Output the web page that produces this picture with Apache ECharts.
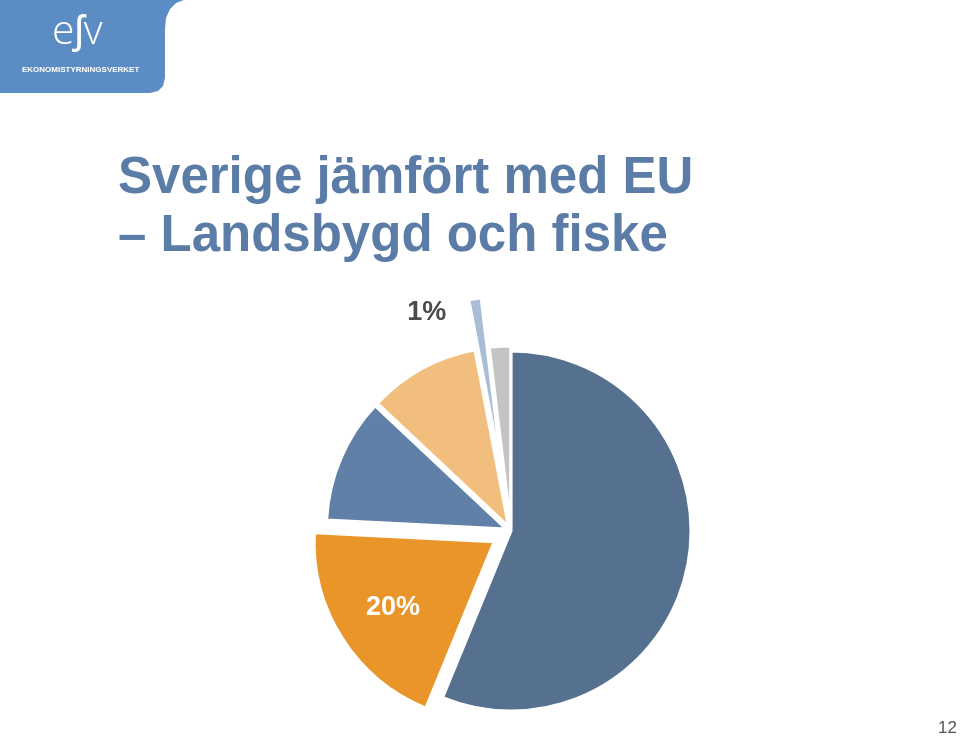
<!DOCTYPE html>
<html>
<head>
<meta charset="utf-8">
<script src="https://cdn.jsdelivr.net/npm/echarts@6/dist/echarts.min.js"></script>
<style>html,body{margin:0;padding:0;background:#fff}#c{width:960px;height:737px}</style>
</head>
<body>
<div id="c"></div>
<script>
// Data
const categories = ['Kategori 1', 'Kategori 2', 'Kategori 3', 'Kategori 4', 'Kategori 5', 'Kategori 6'];
const values = [56.2, 19.6, 11.2, 10.0, 1.1, 1.9];
const showLabel = [false, true, false, false, true, false];
const colors = ['#56718f', '#e9952a', '#6080a8', '#f2be7d', '#a9bdd6', '#c4c4c2'];
// explode layer of each slice
const groups = [0, 2, 1, 1, 3, 1];
const titleLines = ['Sverige jämfört med EU', '– Landsbygd och fiske'];
const pageNumber = '12';

const offsets = [0, 5, 20, 55];
const center = [511, 531];
const radius = 180;
// shift of label text from its default spot
const labelFormats = [null, '\n{d}%', null, null, '{d}%\n\n\n\n\n', null];
const labelLineHeights = [null, 32, null, null, 29, null];
const labelPadding = [null, [0, 45, 0, 0], null, null, [0, 123, 0, 0], null];
const labelColors = [null, '#ffffff', null, null, '#4b4b4b', null];

const series = offsets.map(function (off, g) {
  return {
    type: 'pie',
    center: center,
    radius: radius,
    startAngle: 90,
    clockwise: true,
    selectedMode: 'multiple',
    selectedOffset: off,
    percentPrecision: 0,
    animation: false,
    silent: true,
    avoidLabelOverlap: false,
    labelLine: { show: false },
    data: categories.map(function (name, i) {
      const mine = groups[i] === g;
      return {
        name: name,
        value: values[i],
        selected: mine && off > 0,
        itemStyle: mine
          ? { color: colors[i], borderColor: '#ffffff', borderWidth: 3 }
          : { color: 'rgba(0,0,0,0)', borderWidth: 0 },
        label: (mine && showLabel[i])
          ? {
              show: true,
              position: 'inside',
              formatter: labelFormats[i],
              color: labelColors[i],
              padding: labelPadding[i],
              lineHeight: labelLineHeights[i],
              fontFamily: 'Liberation Sans, Arial, sans-serif',
              fontSize: 27,
              fontWeight: 'bold'
            }
          : { show: false }
      };
    })
  };
});

// logo outline (decoration)
const logoPts = [[0,0],[184,0],[176,3],[170,9],[166,18],[165,30],[165,78],[163,86],[158,91],[150,93],[0,93]];

const chart = echarts.init(document.getElementById('c'), null, { renderer: 'canvas' });
chart.setOption({
  backgroundColor: '#ffffff',
  animation: false,
  graphic: [
    {
      type: 'polygon',
      shape: { points: logoPts },
      style: { fill: '#5b8dc4' }
    },
    {
      type: 'text', left: 52, top: 12,
      style: { text: 'eʃv', fill: '#ffffff', font: '300 41px "Open Sans", sans-serif', letterSpacing: 5 }
    },
    {
      type: 'text', left: 22, top: 66,
      style: { text: 'EKONOMISTYRNINGSVERKET', fill: '#ffffff', font: 'bold 8px "Liberation Sans", Arial, sans-serif' }
    },
    {
      type: 'text', left: 118, top: 153,
      style: { text: titleLines[0], fill: '#5b7ca6', font: 'bold 51px "Liberation Sans", Arial, sans-serif' }
    },
    {
      type: 'text', left: 118, top: 211,
      style: { text: titleLines[1], fill: '#5b7ca6', font: 'bold 51px "Liberation Sans", Arial, sans-serif' }
    },
    {
      type: 'text', right: 3, top: 720,
      style: { text: pageNumber, fill: '#555555', font: '17px "Liberation Sans", Arial, sans-serif' }
    }
  ],
  series: series
});
</script>
</body>
</html>
